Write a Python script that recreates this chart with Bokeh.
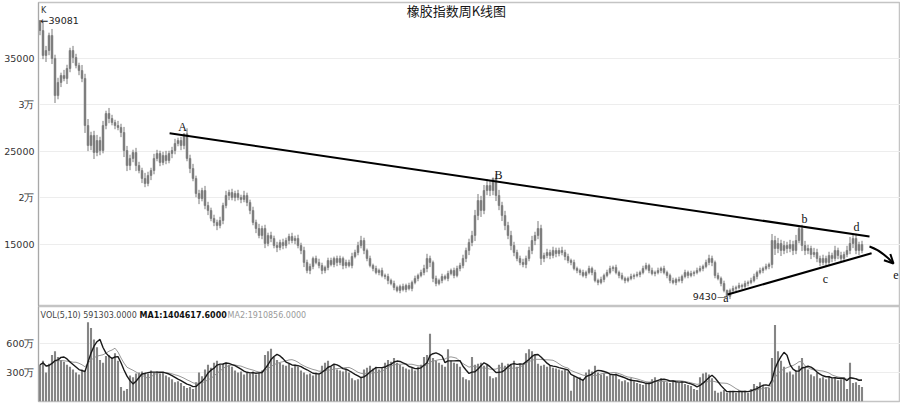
import pandas as pd
from bokeh.plotting import figure
from bokeh.layouts import column
from bokeh.models import Range1d, FixedTicker, Label, Arrow, OpenHead, ColumnDataSource
from bokeh.embed import file_html
from bokeh.resources import INLINE

# ---------------- data ----------------
title_text = "橡胶指数周K线图"
first_open = 39081
low_value = 9430

closes = [
    38000, 35320, 35850, 37470, 35000, 31010, 32420, 33170, 32850, 33920,
    35850, 35100, 34240, 33700, 32850, 27790, 25640, 26720, 24890, 26180,
    25100, 27790, 29080, 28540, 28110, 27790, 27580, 27040, 25100, 23490,
    24250, 24890, 23490, 22950, 22100, 21560, 22420, 22950, 24250, 24780,
    23820, 24570, 24030, 24780, 25100, 25860, 26180, 25640, 26900, 24250,
    23170, 22100, 20480, 19940, 20800, 19190, 18660, 17800, 17370, 17040,
    17580, 19190, 20270, 20590, 20050, 20480, 20050, 19840, 20270, 19520,
    18660, 17370, 16720, 15970, 16720, 15110, 15970, 15650, 14890, 14680,
    15220, 14890, 15430, 15860, 15430, 15650, 14890, 14360, 13070, 12210,
    12640, 13500, 13070, 12740, 12210, 12530, 13280, 12850, 13500, 13070,
    13500, 12740, 13070, 12740, 13710, 14140, 14890, 15430, 14360, 13500,
    12740, 12420, 11990, 12210, 11670, 11560, 11130, 10810, 10380, 10060,
    10490, 10160, 10590, 10270, 10920, 11350, 11670, 11990, 12420, 13500,
    13070, 11350, 10810, 11130, 11560, 11350, 11880, 12210, 11670, 12420,
    12740, 13500, 14360, 15220, 15970, 18120, 19730, 18660, 20800, 21340,
    20800, 22100, 20270, 19190, 18120, 17040, 15970, 14890, 14140, 13500,
    13070, 12850, 13500, 14360, 15430, 15970, 16720, 13500, 13820, 14140,
    13820, 14360, 14030, 14360, 14140, 13710, 13280, 13070, 12420, 12210,
    11990, 11670, 11990, 12420, 11990, 11130, 10920, 11240, 11670, 11990,
    12420, 12530, 11990, 11670, 11350, 11130, 11350, 11560, 11670, 11780,
    11990, 12420, 12740, 12210, 11880, 11990, 12210, 12420, 11990, 11670,
    11130, 10920, 11240, 11130, 11560, 11990, 11670, 11880, 11990, 12210,
    12420, 12640, 13070, 13500, 13070, 11670, 11350, 10810, 10060, 9430,
    10060, 10270, 10380, 10590, 10490, 10810, 10920, 11130, 11560, 11990,
    12210, 12420, 12640, 12850, 15430, 14570, 15110, 14360, 14890, 14570,
    15000, 14360, 15430, 16720, 14890, 14360, 14570, 13930, 14140, 13500,
    13070, 13500, 13070, 13820, 13500, 14360, 13820, 13500, 13930, 14360,
    15110, 15650, 14360, 15000, 14360,
]

# upper / lower shadow lengths of each weekly candle
wick_up = [
    0, 900, 500, 300, 700, 400, 500, 300, 600, 400,
    300, 500, 400, 300, 600, 500, 700, 400, 500, 600,
    400, 500, 300, 600, 400, 300, 500, 400, 600, 500,
    400, 300, 500, 400, 300, 600, 400, 300, 500, 400,
    300, 400, 500, 300, 400, 500, 300, 400, 0, 600,
    400, 500, 300, 400, 300, 500, 400, 300, 400, 300,
    400, 300, 500, 300, 400, 300, 400, 300, 500, 300,
    300, 400, 300, 500, 300, 400, 300, 400, 300, 400,
    300, 400, 300, 300, 400, 300, 400, 300, 400, 300,
    300, 200, 300, 400, 300, 200, 300, 300, 200, 300,
    300, 200, 300, 300, 400, 300, 400, 500, 300, 200,
    300, 200, 300, 200, 300, 200, 300, 200, 300, 200,
    200, 300, 200, 300, 200, 300, 200, 300, 400, 500,
    300, 200, 300, 200, 300, 200, 300, 200, 300, 300,
    300, 400, 300, 400, 500, 600, 700, 500, 600, 700,
    500, 100, 500, 600, 400, 500, 400, 500, 400, 300,
    300, 400, 300, 400, 500, 400, 800, 400, 300, 400,
    300, 400, 300, 300, 400, 300, 300, 200, 300, 200,
    200, 300, 200, 300, 200, 300, 200, 300, 200, 300,
    300, 200, 300, 200, 300, 200, 200, 300, 200, 300,
    200, 300, 300, 200, 300, 200, 300, 200, 300, 200,
    200, 300, 200, 300, 200, 300, 200, 300, 200, 300,
    300, 200, 300, 400, 300, 200, 300, 200, 300, 100,
    200, 300, 200, 300, 200, 300, 200, 300, 300, 200,
    300, 200, 300, 200, 700, 500, 600, 400, 500, 400,
    500, 400, 600, 200, 400, 500, 400, 300, 500, 400,
    300, 400, 300, 400, 300, 500, 300, 400, 300, 500,
    700, 400, 500, 300, 400,
]
wick_dn = [
    500, 400, 700, 500, 600, 800, 400, 500, 300, 600,
    400, 600, 300, 500, 400, 800, 600, 500, 700, 400,
    500, 300, 400, 500, 300, 400, 300, 500, 700, 600,
    500, 400, 600, 300, 500, 400, 300, 500, 400, 300,
    400, 300, 400, 300, 500, 400, 300, 500, 400, 300,
    500, 300, 400, 600, 300, 400, 500, 300, 400, 500,
    300, 400, 300, 500, 300, 400, 300, 400, 300, 400,
    400, 300, 500, 300, 400, 500, 300, 400, 300, 500,
    300, 400, 300, 400, 300, 400, 300, 400, 500, 300,
    400, 300, 200, 300, 400, 300, 300, 200, 300, 400,
    300, 400, 300, 200, 300, 200, 300, 300, 400, 300,
    200, 300, 200, 300, 200, 300, 400, 200, 300, 200,
    300, 200, 300, 200, 300, 200, 300, 200, 300, 400,
    500, 400, 300, 200, 300, 200, 300, 200, 300, 200,
    300, 300, 400, 500, 400, 600, 500, 700, 400, 500,
    600, 500, 600, 500, 600, 500, 400, 500, 400, 300,
    300, 300, 400, 300, 400, 500, 400, 700, 400, 300,
    400, 300, 400, 300, 300, 400, 300, 300, 200, 300,
    300, 200, 300, 200, 300, 200, 300, 200, 300, 200,
    200, 300, 200, 300, 200, 300, 200, 200, 300, 200,
    300, 200, 200, 300, 200, 300, 200, 300, 200, 300,
    300, 200, 300, 200, 300, 200, 300, 200, 300, 200,
    200, 300, 200, 300, 400, 300, 200, 300, 200, 0,
    300, 200, 300, 200, 300, 200, 300, 200, 200, 300,
    200, 300, 200, 300, 400, 700, 500, 600, 400, 500,
    400, 500, 400, 300, 600, 500, 400, 500, 300, 400,
    400, 300, 400, 300, 400, 300, 400, 300, 400, 300,
    400, 500, 400, 500, 300,
]

volumes = [  # 万
    380, 420, 300, 390, 480, 520, 460, 430, 410, 380,
    360, 330, 300, 280, 330, 310, 820, 760, 640, 560,
    430, 400, 470, 480, 450, 500, 420, 150, 110, 130,
    270, 250, 290, 300, 310, 300, 290, 320, 300, 310,
    290, 300, 270, 250, 230, 200, 210, 190, 160, 140,
    150, 130, 200, 300, 260, 330, 380, 350, 400, 420,
    380, 390, 400, 380, 360, 320, 300, 310, 280, 300,
    290, 310, 280, 300, 320, 480, 520, 545, 460, 430,
    400, 380, 370, 390, 350, 380, 360, 320, 300, 280,
    290, 270, 300, 280, 370, 400, 420, 360, 380, 330,
    320, 310, 330, 300, 240, 220, 230, 250, 330, 350,
    370, 340, 360, 330, 350, 400, 430, 410, 450, 400,
    380, 360, 340, 330, 350, 320, 360, 380, 460, 480,
    700, 450, 420, 400, 380, 360, 540, 420, 400, 390,
    360, 250, 230, 220, 460, 380, 390, 400, 370, 380,
    260, 240, 250, 380, 400, 370, 390, 380, 420, 360,
    390, 380, 500, 540, 520, 480, 390, 370, 380, 360,
    370, 350, 340, 330, 320, 330, 310, 110, 260, 240,
    250, 230, 300, 330, 310, 370, 300, 280, 290, 260,
    280, 270, 290, 230, 210, 220, 200, 240, 210, 190,
    180, 170, 190, 200, 230, 250, 220, 240, 210, 200,
    190, 220, 200, 190, 210, 180, 170, 160, 130, 120,
    250, 290, 300, 280, 240, 110, 90, 100, 120, 90,
    110, 100, 90, 120, 100, 110, 90, 130, 180, 160,
    200, 170, 150, 140, 450, 790, 520, 420, 360, 300,
    310, 280, 320, 370, 450, 350, 330, 280, 260, 300,
    240, 250, 230, 260, 240, 250, 220, 230, 250, 130,
    400, 190, 200, 170, 150,
]

price_ticks = [15000, 20000, 25000, 30000, 35000]
price_tick_labels = ["15000", "2万", "25000", "3万", "35000"]
vol_ticks = [300, 600]
vol_tick_labels = ["300万", "600万"]

# trend lines (index, value)
upper_idx = [43.2, 276.5]
upper_val = [26965, 15860]
lower_idx = [229.2, 277.2]
lower_val = [9625, 14065]

wave_labels = ["A", "B", "b", "d", "c", "e"]
wave_idx = [47.5, 152.8, 254.8, 272.2, 261.8, 285.3]
wave_val = [27685, 22525, 17688, 16828, 11345, 11775]
a_label_idx = 228.6
a_label_val = 8450

vol_legend = ["VOL(5,10) 591303.0000", "MA1:1404617.6000", "MA2:1910856.0000"]

# ---------------- build ----------------
n = min(len(closes), len(volumes), len(wick_up), len(wick_dn))
closes = closes[:n]
volumes = volumes[:n]
idx = list(range(n))
opens = [first_open] + closes[:-1]
tops = [max(o, c) for o, c in zip(opens, closes)]
bots = [min(o, c) for o, c in zip(opens, closes)]
highs = [t + u for t, u in zip(tops, wick_up[:n])]
lows = [b - d for b, d in zip(bots, wick_dn[:n])]
vol_s = pd.Series(volumes, dtype=float)
ma5 = vol_s.rolling(5, min_periods=1).mean().tolist()
ma10 = vol_s.rolling(10, min_periods=1).mean().tolist()

src = ColumnDataSource(dict(i=idx, top=tops, bot=bots, high=highs, low=lows,
                            vol=volumes, ma5=ma5, ma10=ma10))

W = 900
LB = 38
xr = Range1d(-0.5, -0.5 + (W - LB) / 3)
CANDLE = "#7a7a7a"
AXC = "#a8a8a8"
TXT = "#333333"
FONT = "DejaVu Sans"


def style_axis(ax, ticks, labels):
    ax.ticker = FixedTicker(ticks=ticks)
    ax.major_label_overrides = {t: l for t, l in zip(ticks, labels)}
    ax.major_label_text_font = FONT
    ax.major_label_text_font_size = "9.5px"
    ax.major_label_text_color = TXT
    ax.major_tick_out = 0
    ax.major_tick_in = 0
    ax.minor_tick_out = 0
    ax.minor_tick_in = 0
    ax.major_label_standoff = 4
    ax.axis_line_color = AXC


p = figure(width=W, height=306, x_range=xr, y_range=Range1d(8335, 41015),
           output_backend="svg", toolbar_location=None,
           min_border_left=LB, min_border_right=0, min_border_top=2, min_border_bottom=0)
p.xaxis.visible = False
p.xgrid.visible = False
p.ygrid.grid_line_color = "#ededed"
p.outline_line_color = "#c4c4c4"
p.outline_line_width = 1.5
style_axis(p.yaxis[0], price_ticks, price_tick_labels)

p.segment(x0="i", y0="low", x1="i", y1="high", source=src, line_color=CANDLE, line_width=1)
p.vbar(x="i", top="top", bottom="bot", width=0.6, source=src,
       fill_color=CANDLE, line_color=CANDLE, line_width=0.6)

p.line(upper_idx, upper_val, line_color="#000000", line_width=2)
p.line(lower_idx, lower_val, line_color="#000000", line_width=2)

# curved arrow towards e
p.quadratic(x0=[276.5], y0=[14785], x1=[284.5], y1=[12958], cx=[280.5], cy=[14355],
            line_color="#000000", line_width=2)
p.add_layout(Arrow(x_start=282.5, y_start=13603, x_end=284.5, y_end=12958,
                   line_alpha=0, end=OpenHead(size=9, line_width=2, line_color="#000000")))

for t, xi, yv in zip(wave_labels, wave_idx, wave_val):
    p.add_layout(Label(x=xi, y=yv, text=t, text_align="center", text_baseline="middle",
                       text_font="Liberation Serif", text_font_size="12px", text_color="#111111"))
p.add_layout(Label(x=a_label_idx, y=a_label_val, text="a", text_align="center", text_baseline="bottom",
                   text_font="Liberation Serif", text_font_size="12px", text_color="#111111"))

p.add_layout(Label(x=138.8, y=40155, text=title_text, text_align="center", text_baseline="middle",
                   text_font="Noto Sans CJK SC", text_font_size="13px", text_color="#151515"))
p.add_layout(Label(x=0.3, y=40155, text="K", text_align="left", text_baseline="middle",
                   text_font=FONT, text_font_size="8px", text_color=TXT))
p.add_layout(Label(x=0.2, y=first_open, text="\u2190" + str(first_open), text_align="left",
                   text_baseline="middle", text_font=FONT, text_font_size="9.5px", text_color="#222222"))
p.add_layout(Label(x=lower_idx[0] - 0.4, y=low_value, text=str(low_value) + "\u2014", text_align="right",
                   text_baseline="middle", text_font=FONT, text_font_size="9.5px", text_color="#222222"))

# ---------------- volume panel ----------------
v = figure(width=W, height=98, x_range=xr, y_range=Range1d(0, 982),
           output_backend="svg", toolbar_location=None,
           min_border_left=LB, min_border_right=0, min_border_top=0, min_border_bottom=3)
v.xaxis.visible = False
v.xgrid.visible = False
v.ygrid.grid_line_color = "#ededed"
v.outline_line_color = "#c4c4c4"
v.outline_line_width = 1.5
style_axis(v.yaxis[0], vol_ticks, vol_tick_labels)

v.vbar(x="i", top="vol", bottom=0, width=0.7, source=src, fill_color="#858585", line_color=None)
v.line(x="i", y="ma10", source=src, line_color="#8c8c8c", line_width=0.9)
v.line(x="i", y="ma5", source=src, line_color="#1a1a1a", line_width=1.4)

leg_x = [0.2, 33.2, 62.5]
leg_color = ["#444444", "#111111", "#9a9a9a"]
leg_style = ["normal", "bold", "normal"]
for t, lx, c, s in zip(vol_legend, leg_x, leg_color, leg_style):
    v.add_layout(Label(x=lx, y=889, text=t, text_align="left", text_baseline="middle",
                       text_font=FONT, text_font_size="8px", text_color=c, text_font_style=s))

layout = column(p, v, spacing=0)
open("out.html", "w").write(file_html(layout, INLINE))
